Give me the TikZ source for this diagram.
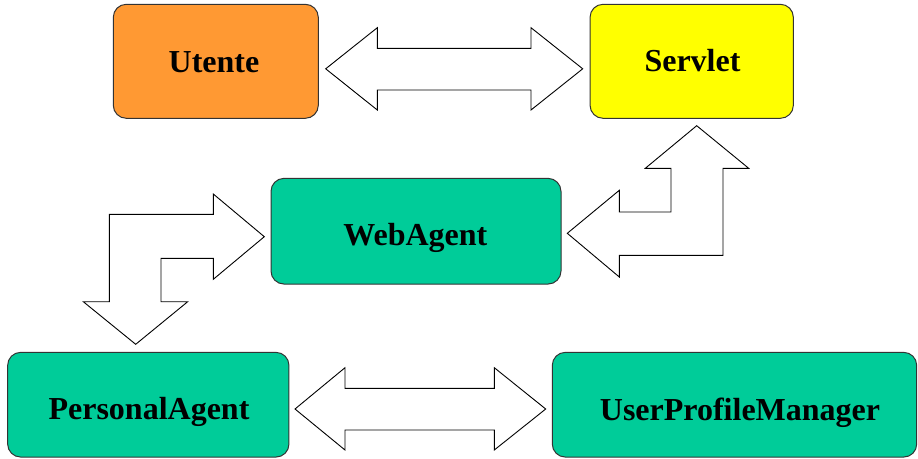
\documentclass[tikz,border=0pt]{standalone}
\usepackage{fontspec}
\setmainfont{Liberation Serif}
\definecolor{orangebox}{HTML}{FF9933}
\definecolor{yellowbox}{HTML}{FFFF00}
\definecolor{tealbox}{HTML}{00CC99}
\definecolor{boxline}{HTML}{333333}
\tikzset{
  box/.style={draw=boxline, line width=1pt, rectangle, rounded corners=13pt, inner sep=0pt},
  lbl/.style={anchor=base, inner sep=0pt, font=\fontsize{32}{38}\selectfont\bfseries},
  blockarrow/.style={draw=black, line width=0.9pt, fill=white, line join=miter}
}
\begin{document}
\begin{tikzpicture}[x=1pt, y=-1pt]
\useasboundingbox (0,0) rectangle (918,458);
% boxes
\node[box, fill=orangebox, minimum width=205pt, minimum height=114pt] (ut) at (215.8,61.3) {};
\node[box, fill=yellowbox, minimum width=203.3pt, minimum height=114pt] (sv) at (691.7,61.3) {};
\node[box, fill=tealbox, minimum width=290pt, minimum height=105.7pt] (wa) at (416,231.2) {};
\node[box, fill=tealbox, minimum width=281.3pt, minimum height=104.7pt] (pa) at (148.3,404.7) {};
\node[box, fill=tealbox, minimum width=364.4pt, minimum height=104.7pt] (upm) at (734.5,404.7) {};
% labels
\node[lbl] (utT) at (214,72) {Utente};
\node[lbl] (svT) at (692.5,71.7) {Servlet};
\node[lbl] (waT) at (415.4,245) {WebAgent};
\node[lbl] (paT) at (149,419.3) {PersonalAgent};
\node[lbl] (upmT) at (740,420) {UserProfileManager};
% Utente <-> Servlet
\draw[blockarrow] (325.7,68.8) -- (377.3,27.7) -- (377.3,48.3) -- (531,48.3) -- (531,27.7) -- (582.7,68.8)
  -- (531,110) -- (531,90) -- (377.3,90) -- (377.3,110) -- cycle;
% PersonalAgent <-> UserProfileManager
\draw[blockarrow] (295,409) -- (345,367.7) -- (345,388.3) -- (494.3,388.3) -- (494.3,367.7) -- (545.7,409)
  -- (494.3,450) -- (494.3,430) -- (345,430) -- (345,450) -- cycle;
% WebAgent <-> PersonalAgent (bent)
\draw[blockarrow] (264.3,236.7) -- (213.3,194) -- (213.3,214.3) -- (109.3,214.3) -- (109.3,301.7)
  -- (83.3,301.7) -- (135.7,344.3) -- (187.7,301.7) -- (161,301.7) -- (161,258.3) -- (213.3,258.3)
  -- (213.3,279.3) -- cycle;
% WebAgent <-> Servlet (bent)
\draw[blockarrow] (567.3,233.3) -- (619.3,190.3) -- (619.3,212) -- (671,212) -- (671,168.3)
  -- (645.3,168.3) -- (696.7,125.7) -- (748.7,168.3) -- (723,168.3) -- (723,255.3) -- (619.3,255.3)
  -- (619.3,277) -- cycle;
\end{tikzpicture}
\end{document}
